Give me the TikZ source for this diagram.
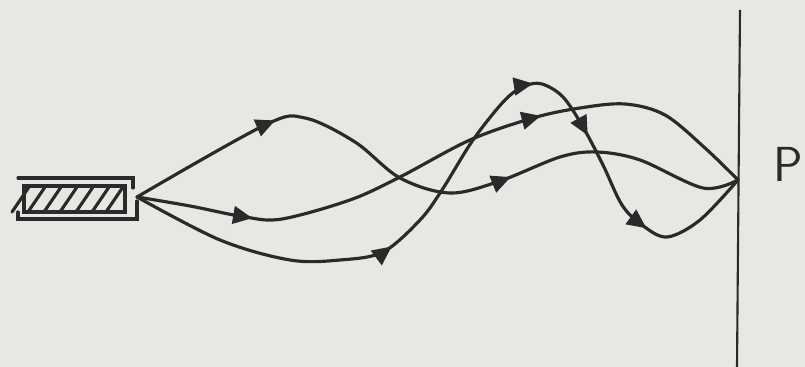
\documentclass[tikz,border=0pt]{standalone}
\usepackage{tikz}
\usetikzlibrary{arrows.meta,decorations.markings}
\definecolor{paper}{RGB}{233,231,228}
\definecolor{ink}{RGB}{42,42,42}

\begin{document}
\begin{tikzpicture}[x=0.02cm, y=-0.02cm,
  ray/.style={draw=ink, line width=1.8pt, line cap=round, smooth, tension=0.55},
  mid/.style={postaction={decorate, decoration={markings,
      mark=at position #1 with {\arrow{Triangle[length=11pt,width=10pt]}}}}},
  wall/.style={draw=ink, line width=1.2pt},
  box/.style={draw=ink, line width=1.8pt, line cap=round}]
  \fill[paper] (0,0) rectangle (805,367);
  \useasboundingbox (0,0) rectangle (805,367);
  % emitter
  \draw[box] (18,178) -- (133,178) -- (133,188);
  \draw[box] (18,212) -- (18,219) -- (137,219) -- (137,201);
  \draw[box] (24,186) rectangle (125,212);
  \foreach \x in {12,28,44,60,76,92,106}
    \draw[box] (\x,212) -- (\x+17,187);
  \coordinate (src) at (137,197);
  % screen
  \coordinate (scrtop) at (740,10);
  \coordinate (scrbot) at (737,367);
  \coordinate (P) at (738,180);
  \draw[wall] (scrtop) -- (scrbot);
  \node[font=\sffamily\fontsize{28}{30}\selectfont, text=ink, anchor=east,
        inner sep=0pt] (lblP) at (803,164) {P};
  % paths
  \draw[ray, mid=0.24, mid=0.635] plot coordinates {(src) (265,125) (305,118)
    (355,142) (400,178) (450,193) (500,181) (560,157) (597,152) (640,160)
    (703,188) (P)};
  \draw[ray, mid=0.18, mid=0.655] plot coordinates {(src) (190,206) (245,217)
    (282,219) (350,200) (400,177) (470,140) (533,118) (580,108) (625,104)
    (665,115) (705,148) (P)};
  \draw[ray, mid=0.34, mid=0.615, mid=0.715, mid=0.855] plot coordinates {(src)
    (220,240) (290,260) (340,260) (383,252) (420,220) (442,190) (473,140)
    (505,100) (525,86) (542,84) (563,97) (583,127) (603,165) (622,205)
    (642,225) (667,237) (700,220) (P)};
\end{tikzpicture}
\end{document}
